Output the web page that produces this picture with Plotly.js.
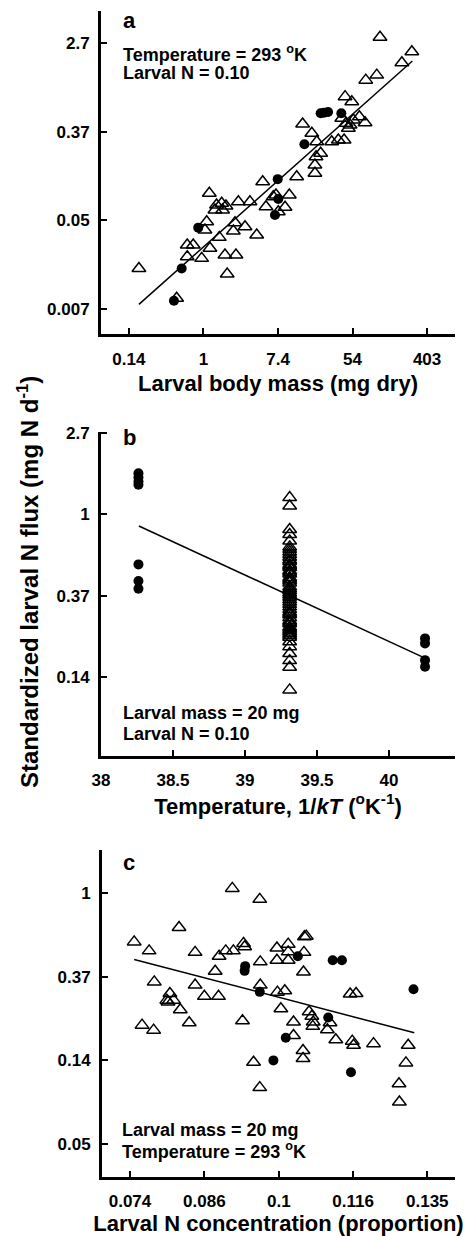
<!DOCTYPE html>
<html>
<head>
<meta charset="utf-8">
<script src="https://cdn.plot.ly/plotly-3.0.1.min.js"></script>
<style>html,body{margin:0;padding:0;background:#fff;}#chart{width:469px;height:1236px;}</style>
</head>
<body>
<div id="chart"></div>
<script>
// ---------- Panel a: flux vs larval body mass ----------
const massTri = [0.177,0.487,0.647,0.760,0.647,0.953,1.09,1.04,1.17,1.19,1.42,1.36,1.63,1.67,1.83,1.53,1.78,2.39,1.89,2.33,2.23,2.55,3.48,3.05,4.17,4.90,5.35,6.51,7.00,7.45,8.92,10.0,12.2,14.3,18.3,19.9,19.9,20.5,23.2,20.9,31.2,37.3,43.5,44.7,53.5,40.9,45.9,51.1,48.8,55.8,65.6,76.4,77.8,104.5,114,205,268];
const fluxTriA = [0.0169,0.00864,0.0286,0.0286,0.0220,0.0212,0.0484,0.0401,0.0916,0.0266,0.0704,0.0630,0.0732,0.0630,0.0689,0.0340,0.0229,0.0229,0.0149,0.0473,0.0393,0.0758,0.0758,0.0432,0.0358,0.119,0.0678,0.0849,0.0882,0.0606,0.0669,0.0882,0.133,0.436,0.354,0.144,0.173,0.209,0.226,0.293,0.293,0.304,0.304,0.807,0.720,0.496,0.443,0.427,0.396,0.477,0.514,0.449,1.17,1.31,3.07,1.73,2.22];
const massDot = [0.453,0.557,0.869,7.33,7.45,6.81,15.0,23.2,25.4,28.3,40.4];
const fluxDotA = [0.00817,0.0169,0.0423,0.126,0.0806,0.0562,0.276,0.555,0.563,0.571,0.555];
const fitAX = [0.177, 272];
const fitAY = [0.00753, 1.80];
const tickAXvals = [0.1353, 1, 7.389, 54.6, 403.4];
const tickAXtext = ['0.14','1','7.4','54','403'];
const tickAYvals = [0.006738, 0.04979, 0.3679, 2.718];
const tickAYtext = ['0.007','0.05','0.37','2.7'];

// ---------- Panel b: flux vs temperature ----------
const tempDot = [38.26,38.26,38.26,38.26,38.26,38.26,38.26,40.25,40.25,40.25,40.25];
const fluxDotB = [1.66,1.58,1.50,1.44,0.54,0.44,0.40,0.217,0.204,0.166,0.153];
const tempTri = 39.31;
const fluxTriB = [1.23,1.11,0.83,0.78,0.72,0.67,0.65,0.63,0.61,0.59,0.57,0.56,0.54,0.53,0.52,0.50,0.49,0.48,0.46,0.45,0.44,0.43,0.41,0.40,0.39,0.38,0.37,0.36,0.35,0.34,0.33,0.32,0.31,0.30,0.295,0.29,0.28,0.27,0.265,0.26,0.25,0.245,0.24,0.235,0.23,0.225,0.22,0.208,0.196,0.180,0.165,0.152,0.115];
const fitBX = [38.263, 40.25];
const fitBY = [0.867, 0.170];
const tickBXvals = [38, 38.5, 39, 39.5, 40];
const tickBXtext = ['38','38.5','39','39.5','40'];
const tickBYvals = [0.1353, 0.3679, 1, 2.718];
const tickBYtext = ['0.14','0.37','1','2.7'];

// ---------- Panel c: flux vs larval N concentration ----------
const nconTri = [0.0749,0.0772,0.0780,0.0761,0.0779,0.0805,0.0800,0.0802,0.0811,0.0822,0.0820,0.0837,0.0847,0.0847,0.0863,0.0888,0.0882,0.0889,0.0901,0.0915,0.0913,0.0934,0.0936,0.0932,0.0953,0.0965,0.0966,0.0966,0.0965,0.0999,0.0999,0.1000,0.1007,0.1015,0.1022,0.1022,0.1022,0.1033,0.1033,0.1053,0.1053,0.1054,0.1055,0.1056,0.1060,0.1066,0.1072,0.1075,0.1074,0.1106,0.1112,0.1125,0.1158,0.1172,0.1163,0.1166,0.1214,0.1278,0.1279,0.1296,0.1302];
const fluxTriC = [0.559,0.502,0.346,0.206,0.194,0.301,0.278,0.272,0.278,0.248,0.665,0.212,0.493,0.333,0.291,0.291,0.393,0.471,0.502,0.502,1.062,0.549,0.527,0.217,0.132,0.931,0.440,0.333,0.0974,0.520,0.449,0.306,0.251,0.311,0.544,0.496,0.449,0.214,0.182,0.152,0.138,0.390,0.493,0.594,0.599,0.242,0.229,0.214,0.203,0.195,0.212,0.173,0.299,0.301,0.170,0.162,0.165,0.102,0.0819,0.131,0.162];
const nconDot = [0.0937,0.0936,0.0965,0.0992,0.1017,0.1042,0.1108,0.1118,0.1139,0.1160,0.1316];
const fluxDotC = [0.418,0.395,0.307,0.135,0.177,0.471,0.226,0.449,0.449,0.117,0.317];
const fitCX = [0.0749, 0.1318];
const fitCY = [0.453, 0.188];
const tickCXvals = [0.07427, 0.08629, 0.1003, 0.1165, 0.1353];
const tickCXtext = ['0.074','0.086','0.1','0.116','0.135'];
const tickCYvals = [0.04979, 0.1353, 0.3679, 1];
const tickCYtext = ['0.05','0.14','0.37','1'];

// ---------- drawing ----------
const FONT = '"Liberation Sans", Arial, Helvetica, sans-serif';
const W = 469, H = 1236;
const px = v => v / W;
const py = v => 1 - v / H;

const triMarker = {symbol:'triangle-up-open', size:12, color:'#000', line:{width:1.5, color:'#000'}};
const dotMarker = {symbol:'circle', size:10, color:'#000', line:{width:0}};
const fitLine = {color:'#000', width:1.5};

const traces = [
  {x:fitAX, y:fitAY, mode:'lines', line:fitLine, xaxis:'x', yaxis:'y', hoverinfo:'skip'},
  {x:massTri, y:fluxTriA, mode:'markers', marker:triMarker, xaxis:'x', yaxis:'y'},
  {x:massDot, y:fluxDotA, mode:'markers', marker:dotMarker, xaxis:'x', yaxis:'y'},

  {x:fitBX, y:fitBY, mode:'lines', line:fitLine, xaxis:'x2', yaxis:'y2', hoverinfo:'skip'},
  {x:fluxTriB.map(() => tempTri), y:fluxTriB, mode:'markers', marker:triMarker, xaxis:'x2', yaxis:'y2'},
  {x:tempDot, y:fluxDotB, mode:'markers', marker:dotMarker, xaxis:'x2', yaxis:'y2'},

  {x:fitCX, y:fitCY, mode:'lines', line:fitLine, xaxis:'x3', yaxis:'y3', hoverinfo:'skip'},
  {x:nconTri, y:fluxTriC, mode:'markers', marker:triMarker, xaxis:'x3', yaxis:'y3'},
  {x:nconDot, y:fluxDotC, mode:'markers', marker:dotMarker, xaxis:'x3', yaxis:'y3'}
];

const tickFont = {family:FONT, size:17, color:'#000', weight:'bold'};
const titleFont = {family:FONT, size:22, color:'#000', weight:'bold'};
function ax(extra) {
  return Object.assign({
    showline:true, linewidth:3, linecolor:'#000', mirror:false,
    ticks:'inside', ticklen:6, tickwidth:1.5, tickcolor:'#000',
    showgrid:false, zeroline:false, tickmode:'array',
    tickfont:tickFont, fixedrange:true
  }, extra);
}

const layout = {
  width:W, height:H,
  margin:{l:0, r:0, t:0, b:0},
  paper_bgcolor:'#fff', plot_bgcolor:'#fff',
  showlegend:false,
  font:{family:FONT, color:'#000'},
  xaxis: ax({type:'log', domain:[px(101), px(455)], range:[-1.194, 2.931], anchor:'y',
    tickvals:tickAXvals, ticktext:tickAXtext, ticklabelstandoff:8,
    title:{text:'Larval body mass (mg dry)', font:titleFont, standoff:8}}),
  yaxis: ax({type:'log', domain:[py(334), py(11)], range:[-2.413, 0.744], anchor:'x',
    tickvals:tickAYvals, ticktext:tickAYtext, ticklabelstandoff:5}),
  xaxis2: ax({type:'linear', domain:[px(101), px(455)], range:[38, 40.458], anchor:'y2',
    tickvals:tickBXvals, ticktext:tickBXtext, ticklabelstandoff:7,
    title:{text:'Temperature, 1/<i>kT</i> (<sup>o</sup>K<sup>-1</sup>)', font:titleFont, standoff:0}}),
  yaxis2: ax({type:'log', domain:[py(756), py(432)], range:[-1.293, 0.441], anchor:'x2',
    tickvals:tickBYvals, ticktext:tickBYtext, ticklabelstandoff:5}),
  xaxis3: ax({type:'log', domain:[px(102), px(455)], range:[-1.1537, -0.8444], anchor:'y3',
    tickvals:tickCXvals, ticktext:tickCXtext, ticklabelstandoff:7,
    title:{text:'Larval N concentration (proportion)', font:titleFont, standoff:0}}),
  yaxis3: ax({type:'log', domain:[py(1177), py(850)], range:[-1.477, 0.226], anchor:'x3',
    tickvals:tickCYvals, ticktext:tickCYtext, ticklabelstandoff:5}),
  annotations: []
};

const annFont = {family:FONT, size:18, color:'#000', weight:'bold'};
const letterFont = {family:FONT, size:22, color:'#000', weight:'bold'};
function note(text, x, y, font) {
  return {text:text, xref:'paper', yref:'paper', x:px(x), y:py(y), xanchor:'left', yanchor:'middle', showarrow:false, font:font || annFont};
}
layout.annotations.push(
  note('a', 121, 20, letterFont),
  note('Temperature = 293 <sup>o</sup>K', 121, 53),
  note('Larval N = 0.10', 121, 73),
  note('b', 121, 437, letterFont),
  note('Larval mass = 20 mg', 121, 713),
  note('Larval N = 0.10', 121, 734),
  note('c', 121, 862, letterFont),
  note('Larval mass = 20 mg', 120, 1130),
  note('Temperature = 293 <sup>o</sup>K', 120, 1150),
  {text:'Standardized larval N flux (mg N d<sup>-1</sup>)', xref:'paper', yref:'paper',
   x:px(28), y:py(582), xanchor:'center', yanchor:'middle', textangle:-90, showarrow:false,
   font:{family:FONT, size:24, color:'#000', weight:'bold'}}
);

Plotly.newPlot('chart', traces, layout, {displayModeBar:false, responsive:false});
</script>
</body>
</html>
